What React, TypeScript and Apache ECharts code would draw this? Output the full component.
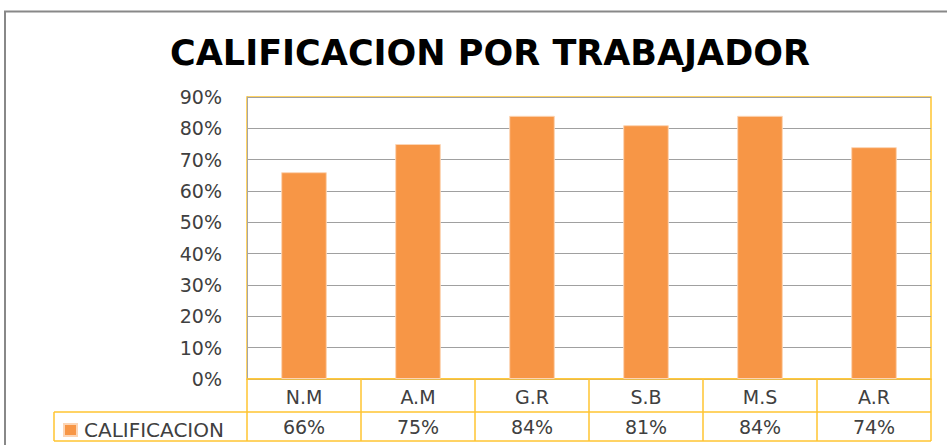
import React, { useEffect, useRef } from "react";
import * as echarts from "echarts";

const categories = ["N.M", "A.M", "G.R", "S.B", "M.S", "A.R"];
const values = [0.66, 0.75, 0.84, 0.81, 0.84, 0.74];
const seriesName = "CALIFICACION";
const titleText = "CALIFICACION POR TRABAJADOR";

const pct = (v: number) => `${Math.round(v * 100)}%`;

const GOLD = "#FFC531";
const FONT = "DejaVu Sans";

export default function App() {
  const ref = useRef<HTMLDivElement>(null);
  useEffect(() => {
    if (!ref.current) return;
    const chart = echarts.init(ref.current, undefined, { renderer: "svg" });
    chart.setOption({
      animation: false,
      backgroundColor: "#ffffff",
      title: {
        text: titleText,
        left: 485,
        top: 30,
        textAlign: "center",
        textStyle: { fontFamily: FONT, fontWeight: "bold", fontSize: 35, color: "#000" },
      },
      legend: {
        show: true,
        left: 63,
        top: 420,
        padding: 0,
        itemWidth: 13,
        itemHeight: 12,
        icon: "rect",
        data: [seriesName],
        textStyle: { fontFamily: FONT, fontSize: 20, color: "#404040", padding: [0, 0, 0, 2] },
      },
      grid: {
        left: 247,
        top: 97,
        right: 16,
        bottom: 66,
        show: true,
        borderColor: GOLD,
        borderWidth: 1.5,
        backgroundColor: "transparent",
      },
      xAxis: [
        {
          type: "category",
          data: categories,
          position: "bottom",
          axisLine: { show: true, lineStyle: { color: GOLD, width: 1.5 } },
          axisTick: { show: true, length: 62, interval: 0, alignWithLabel: false, lineStyle: { color: GOLD, width: 1.5 } },
          axisLabel: { interval: 0, margin: 8, fontFamily: FONT, fontSize: 19, color: "#404040", lineHeight: 19 },
        },
        {
          type: "category",
          data: values.map(pct),
          position: "bottom",
          axisLine: { show: false },
          axisTick: { show: false },
          axisLabel: { interval: 0, margin: 38, fontFamily: FONT, fontSize: 19, color: "#404040", lineHeight: 19 },
        },
      ],
      yAxis: {
        type: "value",
        min: 0,
        max: 0.9,
        interval: 0.1,
        axisLine: { show: true, lineStyle: { color: "#A6A6A6", width: 1 } },
        axisTick: { show: false },
        splitLine: { show: true, lineStyle: { color: "#A0A0A0", width: 1 } },
        axisLabel: {
          margin: 25,
          fontFamily: FONT,
          fontSize: 19,
          color: "#404040",
          formatter: (v: number) => pct(v),
        },
      },
      series: [
        {
          name: seriesName,
          type: "bar",
          data: values,
          barWidth: "40%",
          itemStyle: { color: "#F79646", borderColor: "#FCD5B5", borderWidth: 1 },
        },
      ],
      graphic: [
        {
          type: "rect",
          shape: { x: 5, y: 11.5, width: 1200, height: 1200 },
          style: { fill: "none", stroke: "#888888", lineWidth: 2 },
          silent: true,
        },
        {
          type: "line",
          shape: { x1: 54, y1: 412, x2: 931, y2: 412 },
          style: { stroke: GOLD, lineWidth: 1.5 },
          silent: true,
        },
        {
          type: "line",
          shape: { x1: 54, y1: 441, x2: 931, y2: 441 },
          style: { stroke: GOLD, lineWidth: 1.5 },
          silent: true,
        },
        {
          type: "line",
          shape: { x1: 54, y1: 412, x2: 54, y2: 441 },
          style: { stroke: GOLD, lineWidth: 1.5 },
          silent: true,
        },
      ],
    });
    return () => chart.dispose();
  }, []);
  return (
    <div
      ref={ref}
      style={{ position: "fixed", left: 0, top: 0, width: 947, height: 445 }}
    />
  );
}
